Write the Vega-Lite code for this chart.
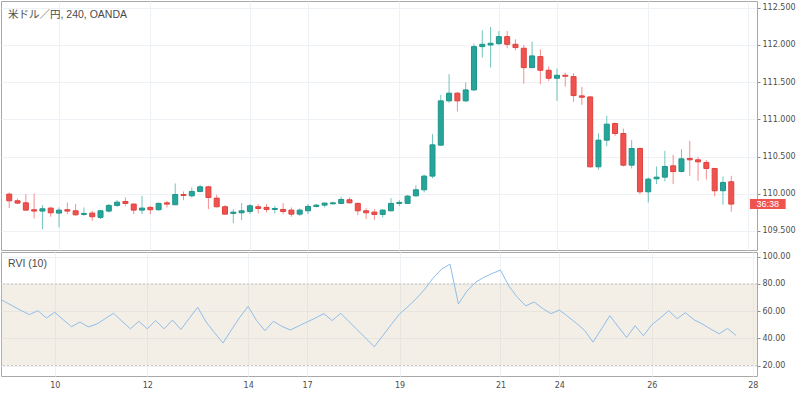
{
  "$schema": "https://vega.github.io/schema/vega-lite/v6.json",
  "padding": 0,
  "spacing": 0,
  "background": "white",
  "datasets": {
    "ohlc": [
      {"i": -1, "rvi": 70.3},
      {"i": 0, "o": 109.995, "h": 110.017, "l": 109.807, "c": 109.905, "rvi": 67.1},
      {"i": 1, "o": 109.905, "h": 109.937, "l": 109.861, "c": 109.874, "rvi": 63.8},
      {"i": 2, "o": 109.878, "h": 109.995, "l": 109.771, "c": 109.780, "rvi": 60.4},
      {"i": 3, "o": 109.785, "h": 110.004, "l": 109.668, "c": 109.767, "rvi": 57.4},
      {"i": 4, "o": 109.767, "h": 109.847, "l": 109.525, "c": 109.798, "rvi": 60.3},
      {"i": 5, "o": 109.807, "h": 109.825, "l": 109.691, "c": 109.744, "rvi": 54.9},
      {"i": 6, "o": 109.740, "h": 109.816, "l": 109.547, "c": 109.780, "rvi": 59.1},
      {"i": 7, "o": 109.785, "h": 109.883, "l": 109.726, "c": 109.767, "rvi": 53.7},
      {"i": 8, "o": 109.771, "h": 109.861, "l": 109.704, "c": 109.717, "rvi": 48.5},
      {"i": 9, "o": 109.722, "h": 109.816, "l": 109.704, "c": 109.735, "rvi": 52.0},
      {"i": 10, "o": 109.740, "h": 109.771, "l": 109.637, "c": 109.691, "rvi": 48.3},
      {"i": 11, "o": 109.682, "h": 109.780, "l": 109.659, "c": 109.771, "rvi": 50.5},
      {"i": 12, "o": 109.767, "h": 109.861, "l": 109.749, "c": 109.843, "rvi": 54.4},
      {"i": 13, "o": 109.843, "h": 109.914, "l": 109.825, "c": 109.887, "rvi": 58.4},
      {"i": 14, "o": 109.896, "h": 109.950, "l": 109.838, "c": 109.870, "rvi": 52.5},
      {"i": 15, "o": 109.861, "h": 109.870, "l": 109.726, "c": 109.780, "rvi": 47.0},
      {"i": 16, "o": 109.780, "h": 109.972, "l": 109.726, "c": 109.807, "rvi": 52.5},
      {"i": 17, "o": 109.816, "h": 109.838, "l": 109.726, "c": 109.785, "rvi": 47.0},
      {"i": 18, "o": 109.785, "h": 109.883, "l": 109.771, "c": 109.870, "rvi": 53.0},
      {"i": 19, "o": 109.878, "h": 109.905, "l": 109.816, "c": 109.861, "rvi": 47.0},
      {"i": 20, "o": 109.852, "h": 110.138, "l": 109.847, "c": 109.990, "rvi": 53.4},
      {"i": 21, "o": 109.990, "h": 110.031, "l": 109.914, "c": 109.977, "rvi": 46.5},
      {"i": 22, "o": 109.972, "h": 110.084, "l": 109.950, "c": 110.031, "rvi": 54.7},
      {"i": 23, "o": 110.031, "h": 110.120, "l": 110.017, "c": 110.093, "rvi": 62.8},
      {"i": 24, "o": 110.093, "h": 110.107, "l": 109.793, "c": 109.950, "rvi": 52.0},
      {"i": 25, "o": 109.941, "h": 109.986, "l": 109.816, "c": 109.825, "rvi": 44.1},
      {"i": 26, "o": 109.825, "h": 109.847, "l": 109.717, "c": 109.726, "rvi": 36.5},
      {"i": 27, "o": 109.735, "h": 109.793, "l": 109.606, "c": 109.753, "rvi": 46.1},
      {"i": 28, "o": 109.744, "h": 109.874, "l": 109.646, "c": 109.771, "rvi": 55.4},
      {"i": 29, "o": 109.762, "h": 109.861, "l": 109.726, "c": 109.838, "rvi": 63.5},
      {"i": 30, "o": 109.825, "h": 109.861, "l": 109.735, "c": 109.802, "rvi": 53.0},
      {"i": 31, "o": 109.816, "h": 109.861, "l": 109.749, "c": 109.789, "rvi": 45.6},
      {"i": 32, "o": 109.789, "h": 109.838, "l": 109.735, "c": 109.802, "rvi": 52.5},
      {"i": 33, "o": 109.789, "h": 109.874, "l": 109.726, "c": 109.762, "rvi": 48.8},
      {"i": 34, "o": 109.780, "h": 109.816, "l": 109.691, "c": 109.726, "rvi": 46.1},
      {"i": 35, "o": 109.726, "h": 109.802, "l": 109.700, "c": 109.780, "rvi": 49.0},
      {"i": 36, "o": 109.771, "h": 109.861, "l": 109.726, "c": 109.829, "rvi": 52.0},
      {"i": 37, "o": 109.829, "h": 109.861, "l": 109.816, "c": 109.847, "rvi": 54.9},
      {"i": 38, "o": 109.847, "h": 109.883, "l": 109.816, "c": 109.874, "rvi": 58.1},
      {"i": 39, "o": 109.865, "h": 109.892, "l": 109.856, "c": 109.878, "rvi": 53.0},
      {"i": 40, "o": 109.870, "h": 109.959, "l": 109.861, "c": 109.923, "rvi": 58.4},
      {"i": 41, "o": 109.919, "h": 109.950, "l": 109.870, "c": 109.878, "rvi": 52.2},
      {"i": 42, "o": 109.870, "h": 109.883, "l": 109.713, "c": 109.771, "rvi": 46.1},
      {"i": 43, "o": 109.771, "h": 109.807, "l": 109.659, "c": 109.744, "rvi": 39.9},
      {"i": 44, "o": 109.753, "h": 109.793, "l": 109.650, "c": 109.722, "rvi": 33.8},
      {"i": 45, "o": 109.722, "h": 109.793, "l": 109.682, "c": 109.780, "rvi": 41.9},
      {"i": 46, "o": 109.771, "h": 109.941, "l": 109.762, "c": 109.870, "rvi": 50.0},
      {"i": 47, "o": 109.870, "h": 109.914, "l": 109.834, "c": 109.883, "rvi": 57.9},
      {"i": 48, "o": 109.870, "h": 109.981, "l": 109.861, "c": 109.968, "rvi": 63.3},
      {"i": 49, "o": 109.972, "h": 110.111, "l": 109.959, "c": 110.053, "rvi": 69.2},
      {"i": 50, "o": 110.053, "h": 110.255, "l": 110.017, "c": 110.237, "rvi": 76.1},
      {"i": 51, "o": 110.237, "h": 110.800, "l": 110.210, "c": 110.657, "rvi": 84.4},
      {"i": 52, "o": 110.653, "h": 111.328, "l": 110.644, "c": 111.248, "rvi": 90.8},
      {"i": 53, "o": 111.248, "h": 111.606, "l": 111.225, "c": 111.351, "rvi": 94.5},
      {"i": 54, "o": 111.351, "h": 111.369, "l": 111.105, "c": 111.248, "rvi": 65.2},
      {"i": 55, "o": 111.248, "h": 111.494, "l": 111.234, "c": 111.395, "rvi": 74.6},
      {"i": 56, "o": 111.395, "h": 112.017, "l": 111.382, "c": 111.977, "rvi": 81.0},
      {"i": 57, "o": 111.977, "h": 112.196, "l": 111.829, "c": 112.008, "rvi": 84.7},
      {"i": 58, "o": 111.999, "h": 112.241, "l": 111.695, "c": 112.022, "rvi": 87.6},
      {"i": 59, "o": 112.017, "h": 112.187, "l": 111.999, "c": 112.111, "rvi": 90.1},
      {"i": 60, "o": 112.111, "h": 112.187, "l": 111.955, "c": 112.008, "rvi": 78.3},
      {"i": 61, "o": 112.008, "h": 112.075, "l": 111.928, "c": 111.964, "rvi": 70.2},
      {"i": 62, "o": 111.955, "h": 111.999, "l": 111.480, "c": 111.695, "rvi": 63.8},
      {"i": 63, "o": 111.695, "h": 112.044, "l": 111.686, "c": 111.852, "rvi": 66.7},
      {"i": 64, "o": 111.843, "h": 111.941, "l": 111.471, "c": 111.659, "rvi": 62.0},
      {"i": 65, "o": 111.659, "h": 111.709, "l": 111.516, "c": 111.552, "rvi": 58.1},
      {"i": 66, "o": 111.552, "h": 111.682, "l": 111.248, "c": 111.592, "rvi": 60.8},
      {"i": 67, "o": 111.592, "h": 111.628, "l": 111.440, "c": 111.579, "rvi": 56.1},
      {"i": 68, "o": 111.574, "h": 111.619, "l": 111.234, "c": 111.319, "rvi": 51.2},
      {"i": 69, "o": 111.315, "h": 111.436, "l": 111.194, "c": 111.297, "rvi": 45.8},
      {"i": 70, "o": 111.301, "h": 111.310, "l": 110.353, "c": 110.362, "rvi": 37.2},
      {"i": 71, "o": 110.362, "h": 110.814, "l": 110.322, "c": 110.720, "rvi": 46.8},
      {"i": 72, "o": 110.720, "h": 111.046, "l": 110.639, "c": 110.935, "rvi": 56.6},
      {"i": 73, "o": 110.944, "h": 110.957, "l": 110.778, "c": 110.809, "rvi": 48.5},
      {"i": 74, "o": 110.809, "h": 110.876, "l": 110.366, "c": 110.384, "rvi": 40.6},
      {"i": 75, "o": 110.384, "h": 110.724, "l": 110.340, "c": 110.608, "rvi": 49.2},
      {"i": 76, "o": 110.608, "h": 110.621, "l": 109.995, "c": 110.026, "rvi": 41.9},
      {"i": 77, "o": 110.026, "h": 110.219, "l": 109.883, "c": 110.196, "rvi": 50.0},
      {"i": 78, "o": 110.201, "h": 110.366, "l": 110.129, "c": 110.223, "rvi": 54.9},
      {"i": 79, "o": 110.223, "h": 110.577, "l": 110.165, "c": 110.366, "rvi": 60.3},
      {"i": 80, "o": 110.375, "h": 110.523, "l": 110.129, "c": 110.299, "rvi": 54.4},
      {"i": 81, "o": 110.299, "h": 110.599, "l": 110.286, "c": 110.469, "rvi": 58.8},
      {"i": 82, "o": 110.474, "h": 110.711, "l": 110.241, "c": 110.456, "rvi": 53.7},
      {"i": 83, "o": 110.456, "h": 110.496, "l": 110.174, "c": 110.429, "rvi": 50.5},
      {"i": 84, "o": 110.420, "h": 110.451, "l": 110.192, "c": 110.340, "rvi": 46.8},
      {"i": 85, "o": 110.340, "h": 110.340, "l": 109.964, "c": 110.040, "rvi": 43.3},
      {"i": 86, "o": 110.040, "h": 110.232, "l": 109.852, "c": 110.152, "rvi": 47.3},
      {"i": 87, "o": 110.161, "h": 110.241, "l": 109.758, "c": 109.861, "rvi": 42.1}
    ]
  },
  "vconcat": [
    {
      "width": 756,
      "height": 249,
      "title": {"text": "米ドル／円, 240, OANDA", "anchor": "start", "frame": "group", "offset": -19, "dx": 7, "fontSize": 10.5, "fontWeight": "normal", "color": "#4a4a4a", "font": "Liberation Sans, Noto Sans CJK JP"},
      "data": {"name": "ohlc"},
      "layer": [
        {
          "mark": {"type": "rule", "strokeWidth": 1, "opacity": 0.65, "clip": true},
          "encoding": {
            "x": {"field": "i", "type": "quantitative", "scale": {"domain": [-0.39, 89.5], "nice": false, "zero": false},
                  "axis": {"values": [6, 17, 29, 36, 47, 59, 66, 77, 89], "tickCount": 20, "labels": false, "ticks": false, "domain": false, "grid": true, "title": null}},
            "y": {"field": "l", "type": "quantitative", "scale": {"domain": [109.244, 112.59], "nice": false, "zero": false},
                  "axis": {"orient": "right", "values": [109.5, 110, 110.5, 111, 111.5, 112, 112.5], "tickCount": 10, "format": ".3f", "title": null, "grid": true, "tickSize": 3, "labelPadding": 2, "labelOverlap": false}},
            "y2": {"field": "h"},
            "color": {"condition": {"test": "datum.c >= datum.o", "value": "#26a69a"}, "value": "#ef5350"}
          }
        },
        {
          "mark": {"type": "bar", "size": 5, "strokeWidth": 1, "clip": true},
          "encoding": {
            "x": {"field": "i", "type": "quantitative"},
            "y": {"field": "o", "type": "quantitative"},
            "y2": {"field": "c"},
            "color": {"condition": {"test": "datum.c >= datum.o", "value": "#26a69a"}, "value": "#ef5350"},
            "stroke": {"condition": {"test": "datum.c >= datum.o", "value": "#1f9488"}, "value": "#e0403d"}
          }
        },
        {
          "transform": [{"filter": "datum.i == 87"}],
          "mark": {"type": "point", "filled": true, "opacity": 1, "shape": "M-1,-0.28L1,-0.28L1,0.28L-1,0.28Z", "size": 1275, "color": "#ef5350", "strokeWidth": 0},
          "encoding": {
            "x": {"datum": 91.4, "type": "quantitative"},
            "y": {"field": "c", "type": "quantitative"}
          }
        },
        {
          "transform": [{"filter": "datum.i == 87"}],
          "mark": {"type": "text", "text": "36:38", "color": "white", "fontSize": 9, "font": "Liberation Sans", "align": "center", "baseline": "middle"},
          "encoding": {
            "x": {"datum": 91.4, "type": "quantitative"},
            "y": {"field": "c", "type": "quantitative"}
          }
        }
      ]
    },
    {
      "width": 756,
      "height": 124,
      "title": {"text": "RVI (10)", "anchor": "start", "frame": "group", "offset": -17, "dx": 7, "fontSize": 10.5, "fontWeight": "normal", "color": "#4a4a4a", "font": "Liberation Sans"},
      "layer": [
        {
          "data": {"values": [{"lo": 20, "hi": 80}]},
          "mark": {"type": "rect", "color": "#d6c4a6", "opacity": 0.28},
          "encoding": {
            "y": {"field": "hi", "type": "quantitative", "scale": {"domain": [12.3, 103.4], "nice": false, "zero": false}},
            "y2": {"field": "lo"}
          }
        },
        {
          "data": {"values": [{"lv": 20}, {"lv": 80}]},
          "mark": {"type": "rule", "color": "#c9c9c9", "strokeDash": [2, 2], "strokeWidth": 1},
          "encoding": {"y": {"field": "lv", "type": "quantitative"}}
        },
        {
          "data": {"name": "ohlc"},
          "mark": {"type": "line", "color": "#8fbde9", "strokeWidth": 1, "clip": true},
          "encoding": {
            "x": {"field": "i", "type": "quantitative", "scale": {"domain": [-0.39, 89.5], "nice": false, "zero": false},
                  "axis": {"values": [6, 17, 29, 36, 47, 59, 66, 77, 89], "tickCount": 20, "grid": true, "ticks": false, "domain": true, "domainColor": "#a8a8a8", "offset": 19, "title": null, "labelPadding": -14, "labelOverlap": false, "labelFlush": false,
                           "labelExpr": "datum.value == 6 ? '10' : datum.value == 17 ? '12' : datum.value == 29 ? '14' : datum.value == 36 ? '17' : datum.value == 47 ? '19' : datum.value == 59 ? '21' : datum.value == 66 ? '24' : datum.value == 77 ? '26' : '28'"}},
            "y": {"field": "rvi", "type": "quantitative",
                  "axis": {"orient": "right", "values": [20, 40, 60, 80, 100], "tickCount": 10, "format": ".2f", "title": null, "grid": true, "tickSize": 3, "labelPadding": 2, "labelOverlap": false}}
          }
        }
      ]
    }
  ],
  "config": {
    "view": {"stroke": "#a8a8a8", "strokeWidth": 1},
    "axis": {"labelFont": "DejaVu Sans", "labelFontSize": 8, "labelColor": "#4d4d4d", "gridColor": "#eef1f6", "gridWidth": 1, "tickColor": "#8c8c8c", "domain": false, "labelOverlap": false},
    "font": "Liberation Sans"
  }
}
